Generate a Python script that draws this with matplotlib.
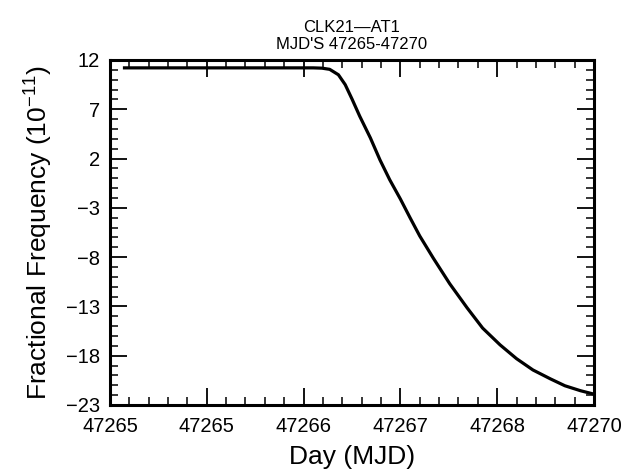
"""
fractional frequency of CLK21 against AT1 over MJD 47265-47270
"""

import matplotlib
matplotlib.use("Agg")
import matplotlib.pyplot as plt
from matplotlib.ticker import MultipleLocator

plt.rcParams['font.family'] = ['Liberation Sans', 'DejaVu Sans']
plt.rcParams['mathtext.fontset'] = 'custom'
plt.rcParams['mathtext.rm'] = 'Liberation Sans'
plt.rcParams['mathtext.it'] = 'Liberation Sans'

# curve (day, fractional frequency in 1e-11)
mjd = [47265.15, 47267.10, 47267.19, 47267.27, 47267.36, 47267.43, 47267.50,
       47267.58, 47267.69, 47267.79, 47267.89, 47268.00, 47268.10, 47268.20,
       47268.34, 47268.51, 47268.69, 47268.85, 47269.03, 47269.20, 47269.37,
       47269.55, 47269.70, 47269.86, 47270.00]
freq = [11.2, 11.2, 11.17, 11.05, 10.5, 9.5, 8.05,
        6.3, 4.1, 1.85, -0.15, -2.1, -4.0, -5.85,
        -8.1, -10.7, -13.15, -15.2, -16.9, -18.3, -19.45,
        -20.35, -21.05, -21.55, -21.9]

x_ticks = [47265, 47266, 47267, 47268, 47269, 47270]
x_labels = ['47265', '47265', '47266', '47267', '47268', '47270']
y_ticks = [12, 7, 2, -3, -8, -13, -18, -23]
y_labels = ['12', '7', '2', '\u22123', '\u22128', '\u221213', '\u221218', '\u221223']

fig = plt.figure(figsize=(6.22, 4.76), dpi=100)
ax = fig.add_axes([0.1768, 0.1492, 0.7781, 0.7248])

ax.plot(mjd, freq, color='black', linewidth=2.3, solid_joinstyle='round')

ax.set_xlim(47265, 47270)
ax.set_ylim(-23, 12)
ax.set_xticks(x_ticks)
ax.set_xticklabels(x_labels)
ax.set_yticks(y_ticks)
ax.set_yticklabels(y_labels)
ax.xaxis.set_minor_locator(MultipleLocator(0.2))
ax.yaxis.set_minor_locator(MultipleLocator(1))

ax.tick_params(which='both', direction='in', top=True, right=True,
               colors='black', labelsize=14.5)
ax.tick_params(which='major', length=12, width=1.3)
ax.tick_params(which='minor', length=6, width=1.1)
ax.tick_params(axis='x', which='major', pad=9)
ax.tick_params(axis='y', which='major', pad=7)

for spine in ax.spines.values():
    spine.set_linewidth(2.2)
    spine.set_color('black')

ax.set_xlabel('Day (MJD)', fontsize=19, labelpad=6)
ax.set_ylabel('Fractional Frequency (10$^{-11}$)', fontsize=19, labelpad=8)
ax.set_title('CLK21\u2014AT1\nMJD\'S 47265-47270', fontsize=12, linespacing=1.15, pad=8)

plt.savefig('out.png', dpi=100)
plt.close()
